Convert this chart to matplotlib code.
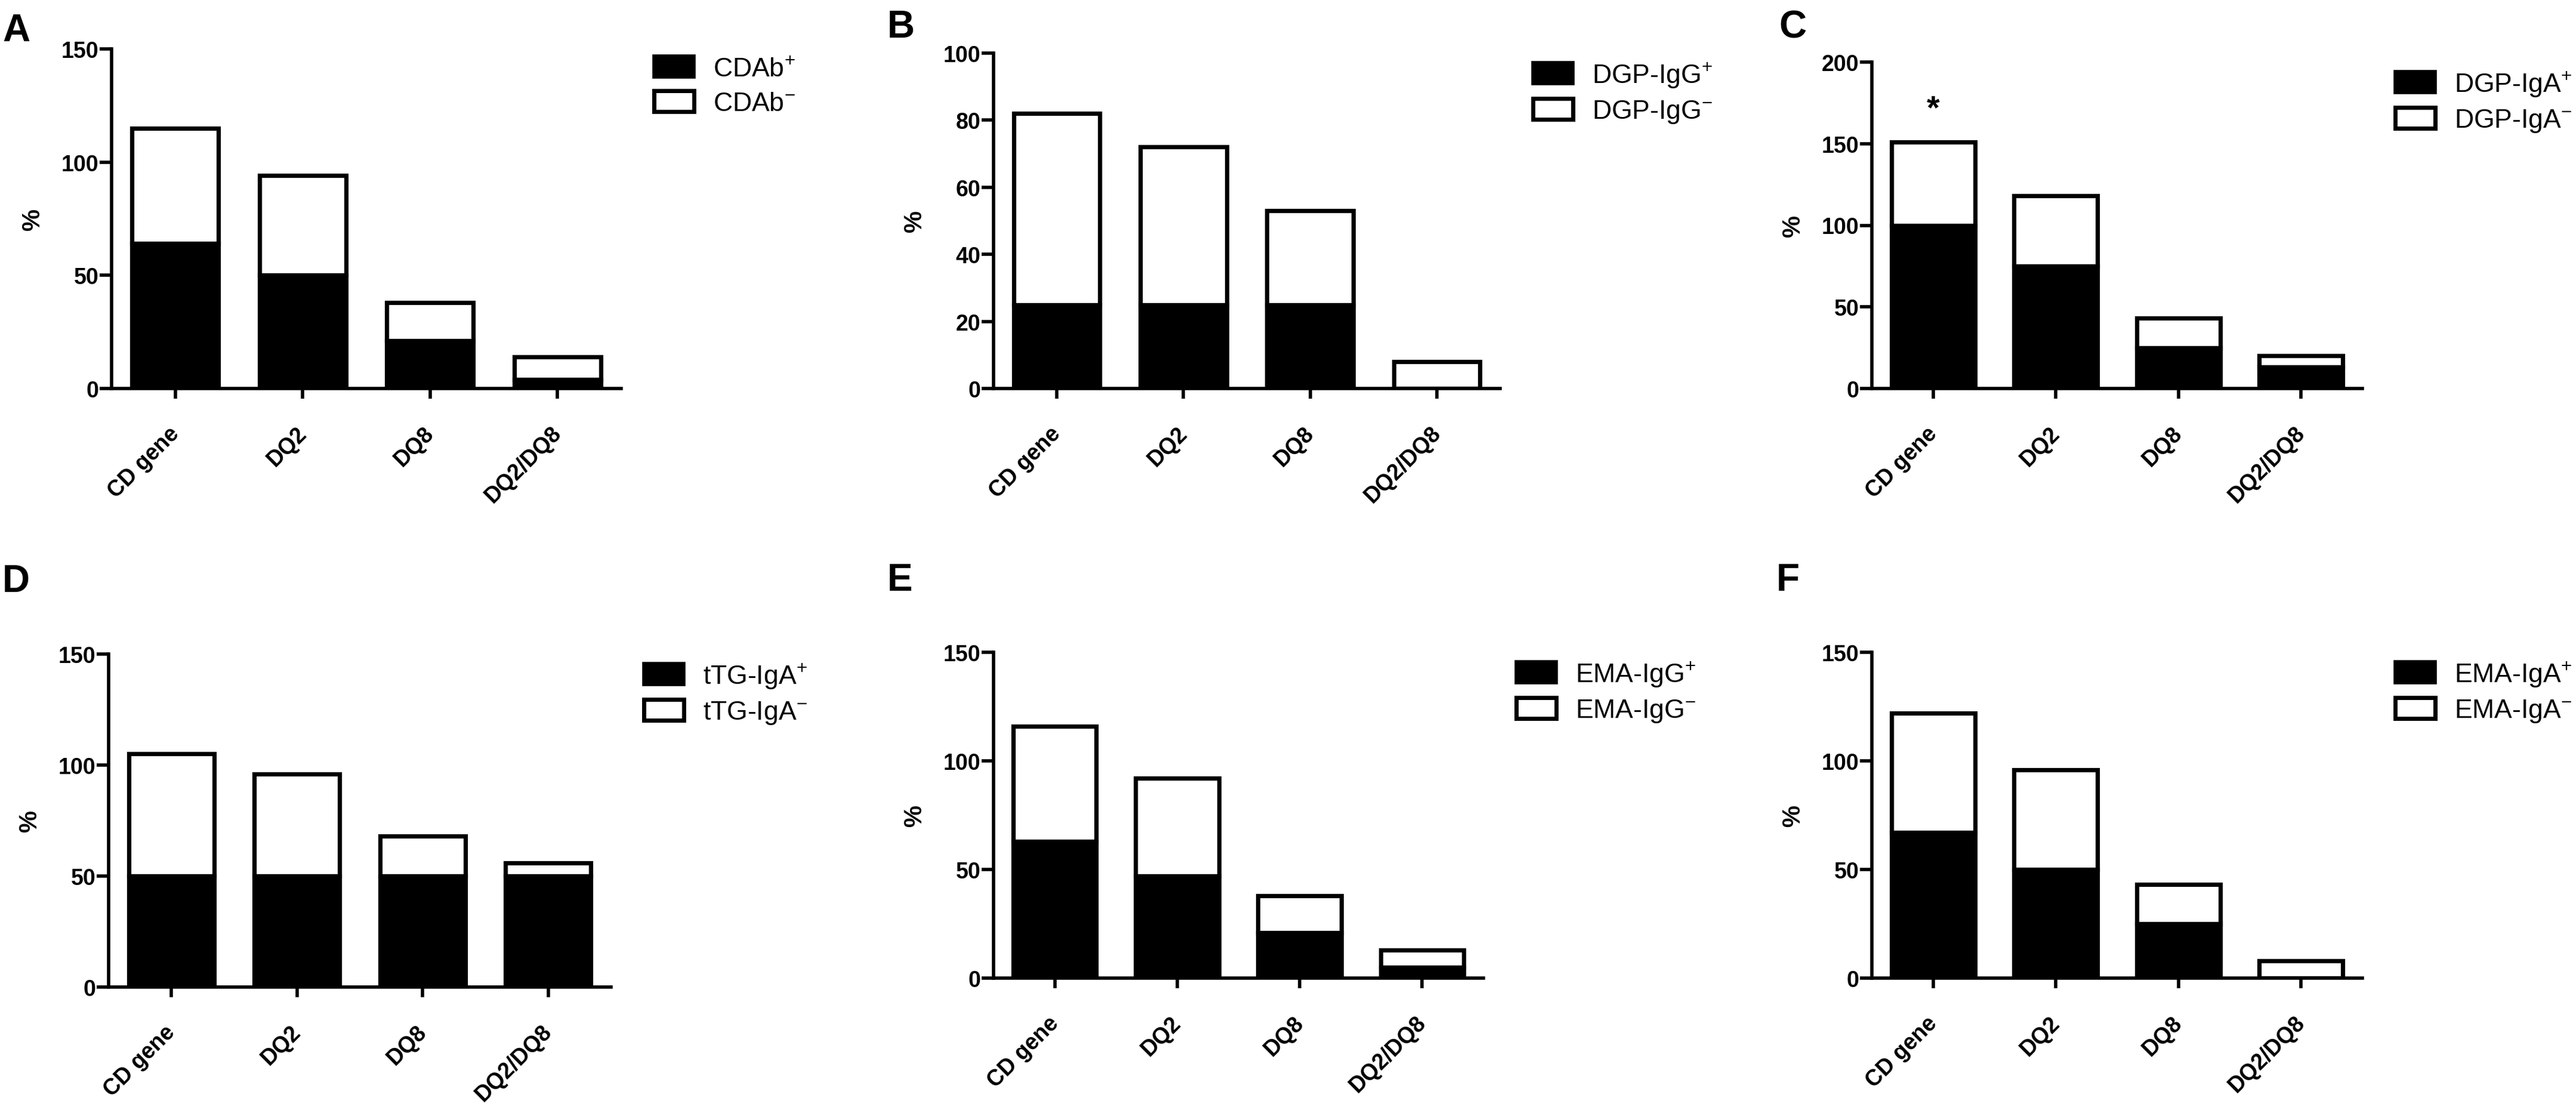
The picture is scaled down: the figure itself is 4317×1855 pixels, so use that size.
import matplotlib
matplotlib.use("Agg")
import matplotlib.pyplot as plt
import matplotlib.transforms as mtransforms
from matplotlib.patches import Patch

plt.rcParams["font.family"] = ["Liberation Sans", "DejaVu Sans"]
plt.rcParams["mathtext.fontset"] = "custom"
plt.rcParams["mathtext.rm"] = "Liberation Sans"
plt.rcParams["mathtext.it"] = "Liberation Sans:italic"
plt.rcParams["mathtext.bf"] = "Liberation Sans:bold"

# ---------------------------------------------------------------------------
# Data (percent)
# ---------------------------------------------------------------------------
GROUPS = ["CD gene", "DQ2", "DQ8", "DQ2/DQ8"]

cdab_pos = [64, 50, 21, 4]
cdab_neg = [51, 44, 17, 10]

dgp_igg_pos = [25, 25, 25, 0]
dgp_igg_neg = [57, 47, 28, 8]

dgp_iga_pos = [100, 75, 25, 13]
dgp_iga_neg = [51, 43, 18, 7]

ttg_iga_pos = [50, 50, 50, 50]
ttg_iga_neg = [55, 46, 18, 6]

ema_igg_pos = [63, 47, 21, 5]
ema_igg_neg = [53, 45, 17, 8]

ema_iga_pos = [67, 50, 25, 0]
ema_iga_neg = [55, 46, 18, 8]

PANEL_LETTERS = ["A", "B", "C", "D", "E", "F"]
MARKERS = ["CDAb", "DGP-IgG", "DGP-IgA", "tTG-IgA", "EMA-IgG", "EMA-IgA"]
Y_MAX = [150, 100, 200, 150, 150, 150]
Y_STEP = [50, 20, 50, 50, 50, 50]

# significance mark: (panel index, group index, y value)
STAR = (2, 0, 171)

# ---------------------------------------------------------------------------
# Layout (pixel boxes in the 4317 x 1856 canvas: left, top, right, bottom)
# ---------------------------------------------------------------------------
W, H = 4317, 1856
AX_BOX = [
    (187, 83, 1041, 652),
    (1665, 90, 2514, 652),
    (3137, 105, 3959, 652),
    (182, 1097, 1024, 1655),
    (1665, 1094, 2486, 1640),
    (3137, 1094, 3959, 1640),
]
LETTER_POS = [(4, 69), (1487, 63), (2981, 63), (4, 992), (1487, 990), (2977, 990)]

pos_all = [cdab_pos, dgp_igg_pos, dgp_iga_pos, ttg_iga_pos, ema_igg_pos, ema_iga_pos]
neg_all = [cdab_neg, dgp_igg_neg, dgp_iga_neg, ttg_iga_neg, ema_igg_neg, ema_iga_neg]

fig = plt.figure(figsize=(W / 100, H / 100), dpi=100)

BAR_LW = 5.2
AX_LW = 4.0

for i in range(6):
    l, t, r, b = AX_BOX[i]
    ax = fig.add_axes([l / W, 1 - b / H, (r - l) / W, (b - t) / H])
    x = list(range(len(GROUPS)))
    ax.bar(x, neg_all[i], bottom=pos_all[i], width=0.68, color="white",
           edgecolor="black", linewidth=BAR_LW, zorder=2)
    ax.bar(x, pos_all[i], width=0.68, color="black",
           edgecolor="black", linewidth=BAR_LW, zorder=3)

    ax.set_xlim(-0.5, 3.5)
    ax.set_ylim(0, Y_MAX[i])
    ax.set_yticks(range(0, Y_MAX[i] + 1, Y_STEP[i]))
    ax.set_xticks(x)

    for side in ("top", "right"):
        ax.spines[side].set_visible(False)
    for side in ("left", "bottom"):
        ax.spines[side].set_linewidth(AX_LW)
    ax.tick_params(axis="y", length=14.5, width=AX_LW, pad=1)
    ax.tick_params(axis="x", length=12, width=AX_LW, pad=0)

    ax.set_xticklabels(GROUPS, rotation=45, ha="right", va="top",
                       rotation_mode="anchor", fontsize=27, fontweight="bold")
    # push the slanted labels down so they sit like the original
    # (done after tick_params, which would reset the transform)
    offset = mtransforms.ScaledTranslation(-12 / 100, -40 / 100, fig.dpi_scale_trans)
    for lab in ax.get_xticklabels():
        lab.set_transform(lab.get_transform() + offset)
    for lab in ax.get_yticklabels():
        lab.set_fontsize(27)
        lab.set_fontweight("bold")
    ax.set_ylabel("%", fontsize=30, fontweight="bold", labelpad=20)

    handles = [
        Patch(facecolor="black", edgecolor="black", linewidth=4, joinstyle="round"),
        Patch(facecolor="white", edgecolor="black", linewidth=5, joinstyle="round"),
    ]
    labels = [MARKERS[i] + r"$^{+}$", MARKERS[i] + r"$^{-}$"]
    wpx = r - l
    hpx = b - t
    ax.legend(handles, labels, loc="upper left", frameon=False,
              bbox_to_anchor=(1 + 55 / wpx, 1 - 12 / hpx),
              fontsize=32, borderpad=0, borderaxespad=0,
              handlelength=1.5, handleheight=0.85, handletextpad=0.72,
              labelspacing=0.35)

    if STAR[0] == i:
        ax.text(STAR[1], STAR[2], "*", ha="center", va="center",
                fontsize=40, fontweight="bold")

    lx, ly = LETTER_POS[i]
    fig.text(lx / W, 1 - ly / H, PANEL_LETTERS[i], fontsize=46,
             fontweight="bold", ha="left", va="baseline")

fig.savefig("out.png", dpi=100, facecolor="white")
